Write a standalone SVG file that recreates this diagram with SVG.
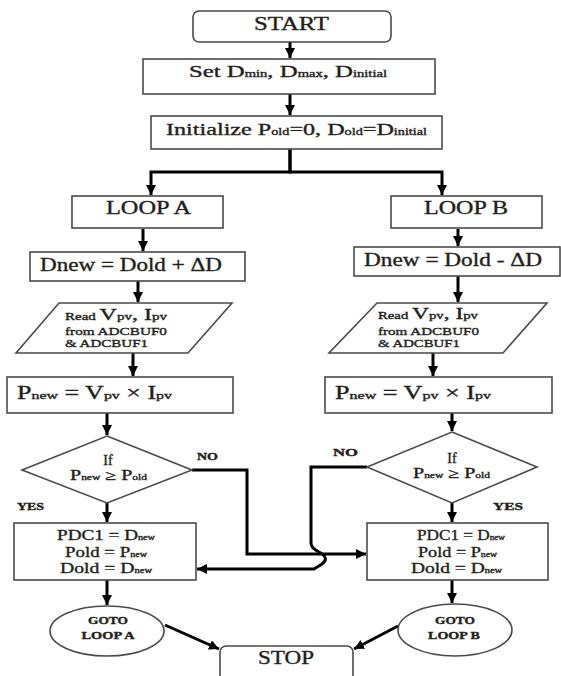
<svg xmlns="http://www.w3.org/2000/svg" width="561" height="676" viewBox="0 0 561 676">
<defs>
<marker id="ah" markerUnits="userSpaceOnUse" markerWidth="11" markerHeight="11" refX="10" refY="5" orient="auto">
<path d="M0,0 L10,5 L0,10 z" fill="#000"/>
</marker>
<style>
.bx{fill:#fff;stroke:#4a4a4a;stroke-width:1.6}
.t{font-family:"Liberation Serif","Times New Roman",serif;fill:#231f1a;stroke:#231f1a;stroke-width:0.35}
.c{fill:none;stroke:#000;stroke-width:3;marker-end:url(#ah)}
.b{font-weight:bold}
</style>
</defs>
<rect width="561" height="676" fill="#fff"/>

<g id="connectors">
<path class="c" d="M290,42 V58"/>
<path class="c" d="M290,94 V115"/>
<path class="c" d="M290,149 V172 H151 V195"/>
<path class="c" d="M290,149 V172 H442 V195"/>
<path class="c" d="M143,229 V251"/>
<path class="c" d="M138,281 V302"/>
<path class="c" d="M133,353 V376"/>
<path class="c" d="M107,413 V435"/>
<path class="c" d="M107,503 V522"/>
<path class="c" d="M107,580 V605"/>
<path class="c" d="M165,625 L219,649"/>
<path class="c" d="M458,229 V246"/>
<path class="c" d="M458,276 V302"/>
<path class="c" d="M433,353 V376"/>
<path class="c" d="M452,413 V431"/>
<path class="c" d="M452,503 V522"/>
<path class="c" d="M452,580 V603"/>
<path class="c" d="M398,626 L354,649"/>
<path class="c" d="M192,470 H247 V554 H366"/>
<path class="c" d="M367,467 H311 V543 Q311,548 319,552 Q330,558 322,564 L314,569 H197"/>
</g>

<g id="start">
<rect class="bx" x="193" y="11" width="198" height="31" rx="6"/>
<text class="t" x="291.5" y="30" font-size="19" text-anchor="middle" textLength="75" lengthAdjust="spacingAndGlyphs">START</text>
</g>

<g id="set">
<rect class="bx" x="143" y="59" width="292" height="35"/>
<text class="t" x="189" y="77" font-size="17" textLength="198" lengthAdjust="spacingAndGlyphs">Set D<tspan font-size="10">min</tspan>, D<tspan font-size="10">max</tspan>, D<tspan font-size="10">initial</tspan></text>
</g>

<g id="init">
<rect class="bx" x="151" y="116" width="291" height="33"/>
<text class="t" x="166" y="135" font-size="17" textLength="261" lengthAdjust="spacingAndGlyphs">Initialize P<tspan font-size="10">old</tspan>=0, D<tspan font-size="10">old</tspan>=D<tspan font-size="10">initial</tspan></text>
</g>

<g id="loopA">
<rect class="bx" x="72" y="196" width="151" height="32"/>
<text class="t" x="148.5" y="214" font-size="18" text-anchor="middle" textLength="85" lengthAdjust="spacingAndGlyphs">LOOP A</text>
</g>

<g id="loopB">
<rect class="bx" x="391" y="196" width="151" height="32"/>
<text class="t" x="466" y="214" font-size="18" text-anchor="middle" textLength="84" lengthAdjust="spacingAndGlyphs">LOOP B</text>
</g>

<g id="dnewA">
<rect class="bx" x="30" y="252" width="215" height="29"/>
<text class="t" x="40" y="271" font-size="18" textLength="182" lengthAdjust="spacingAndGlyphs">Dnew = Dold + ΔD</text>
</g>

<g id="dnewB">
<rect class="bx" x="354" y="247" width="206" height="29"/>
<text class="t" x="364" y="266" font-size="18" textLength="178" lengthAdjust="spacingAndGlyphs">Dnew = Dold - ΔD</text>
</g>

<g id="readA">
<polygon class="bx" points="59,303 232,303 188,353 16,353"/>
<text class="t" x="65" y="320" font-size="16" textLength="102" lengthAdjust="spacingAndGlyphs"><tspan font-size="10">Read </tspan>V<tspan font-size="10">pv</tspan>, I<tspan font-size="10">pv</tspan></text>
<text class="t" x="65" y="335" font-size="11" textLength="102" lengthAdjust="spacingAndGlyphs">from ADCBUF0</text>
<text class="t" x="65" y="347" font-size="11" textLength="83" lengthAdjust="spacingAndGlyphs">&amp; ADCBUF1</text>
</g>

<g id="readB">
<polygon class="bx" points="377,303 547,303 503,353 329,353"/>
<text class="t" x="378" y="319" font-size="16" textLength="100" lengthAdjust="spacingAndGlyphs"><tspan font-size="10">Read </tspan>V<tspan font-size="10">pv</tspan>, I<tspan font-size="10">pv</tspan></text>
<text class="t" x="378" y="335" font-size="11" textLength="101" lengthAdjust="spacingAndGlyphs">from ADCBUF0</text>
<text class="t" x="378" y="347" font-size="11" textLength="82" lengthAdjust="spacingAndGlyphs">&amp; ADCBUF1</text>
</g>

<g id="pnewA">
<rect class="bx" x="7" y="377" width="226" height="36"/>
<text class="t" x="17" y="399" font-size="18" textLength="155" lengthAdjust="spacingAndGlyphs">P<tspan font-size="11">new</tspan> = V<tspan font-size="11">pv</tspan> × I<tspan font-size="11">pv</tspan></text>
</g>

<g id="pnewB">
<rect class="bx" x="325" y="377" width="227" height="36"/>
<text class="t" x="335" y="399" font-size="18" textLength="156" lengthAdjust="spacingAndGlyphs">P<tspan font-size="11">new</tspan> = V<tspan font-size="11">pv</tspan> × I<tspan font-size="11">pv</tspan></text>
</g>

<g id="decA">
<polygon class="bx" points="107,436 192,470 107,503 22,470"/>
<text class="t" x="108" y="465" font-size="14" text-anchor="middle">If</text>
<text class="t" x="70" y="480" font-size="14" textLength="77" lengthAdjust="spacingAndGlyphs">P<tspan font-size="8">new</tspan> ≥ P<tspan font-size="8">old</tspan></text>
<text class="t b" x="197" y="460" font-size="10" textLength="21" lengthAdjust="spacingAndGlyphs">NO</text>
<text class="t b" x="17" y="510" font-size="10" textLength="27" lengthAdjust="spacingAndGlyphs">YES</text>
</g>

<g id="decB">
<polygon class="bx" points="452,432 537,467 452,503 367,467"/>
<text class="t" x="452" y="463" font-size="14" text-anchor="middle">If</text>
<text class="t" x="413" y="478" font-size="14" textLength="77" lengthAdjust="spacingAndGlyphs">P<tspan font-size="8">new</tspan> ≥ P<tspan font-size="8">old</tspan></text>
<text class="t b" x="333" y="456" font-size="10" textLength="25" lengthAdjust="spacingAndGlyphs">NO</text>
<text class="t b" x="493" y="510" font-size="10" textLength="30" lengthAdjust="spacingAndGlyphs">YES</text>
</g>

<g id="updA">
<rect class="bx" x="14" y="523" width="182" height="57"/>
<text class="t" x="57" y="540" font-size="15" textLength="98" lengthAdjust="spacingAndGlyphs">PDC1 = D<tspan font-size="8">new</tspan></text>
<text class="t" x="65" y="557" font-size="15" textLength="82" lengthAdjust="spacingAndGlyphs">Pold = P<tspan font-size="8">new</tspan></text>
<text class="t" x="60" y="573" font-size="15" textLength="92" lengthAdjust="spacingAndGlyphs">Dold = D<tspan font-size="8">new</tspan></text>
</g>

<g id="updB">
<rect class="bx" x="367" y="523" width="181" height="57"/>
<text class="t" x="417" y="540" font-size="15" textLength="88" lengthAdjust="spacingAndGlyphs">PDC1 = D<tspan font-size="8">new</tspan></text>
<text class="t" x="418" y="557" font-size="15" textLength="79" lengthAdjust="spacingAndGlyphs">Pold = P<tspan font-size="8">new</tspan></text>
<text class="t" x="411" y="573" font-size="15" textLength="91" lengthAdjust="spacingAndGlyphs">Dold = D<tspan font-size="8">new</tspan></text>
</g>

<g id="gotoA">
<ellipse class="bx" cx="107" cy="631" rx="57" ry="25"/>
<text class="t b" x="108" y="624" font-size="10" text-anchor="middle" textLength="40" lengthAdjust="spacingAndGlyphs">GOTO</text>
<text class="t b" x="108" y="639" font-size="10" text-anchor="middle" textLength="53" lengthAdjust="spacingAndGlyphs">LOOP A</text>
</g>

<g id="gotoB">
<ellipse class="bx" cx="455" cy="630" rx="57" ry="26"/>
<text class="t b" x="455" y="624" font-size="10" text-anchor="middle" textLength="40" lengthAdjust="spacingAndGlyphs">GOTO</text>
<text class="t b" x="454" y="639" font-size="10" text-anchor="middle" textLength="52" lengthAdjust="spacingAndGlyphs">LOOP B</text>
</g>

<g id="stop">
<rect class="bx" x="220" y="646" width="133" height="40" rx="6"/>
<text class="t" x="286" y="664" font-size="19" text-anchor="middle" textLength="56" lengthAdjust="spacingAndGlyphs">STOP</text>
</g>
</svg>
